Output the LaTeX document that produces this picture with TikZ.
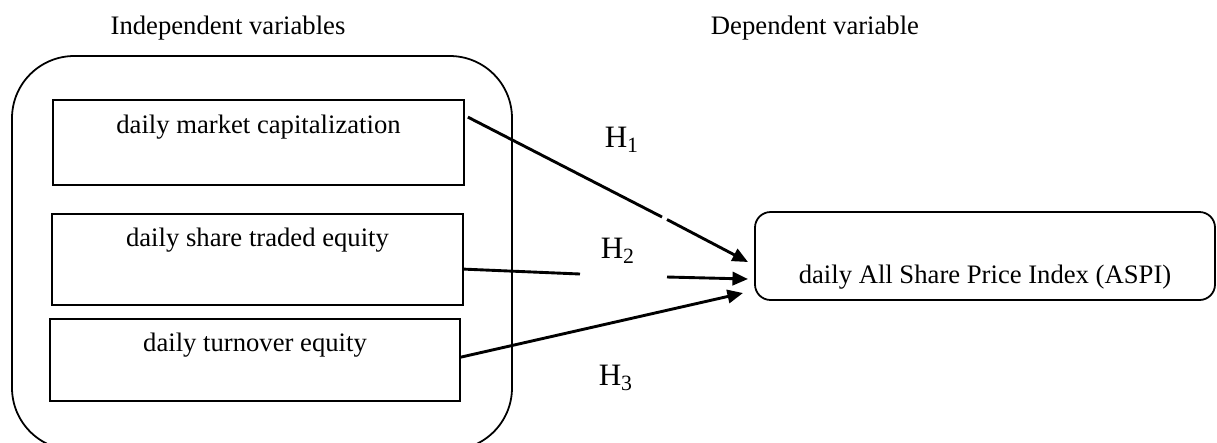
\documentclass[tikz,border=0pt]{standalone}
\usepackage{fontspec}
\setmainfont{Liberation Serif}
\usetikzlibrary{arrows.meta,fit,calc}
\begin{document}
\begin{tikzpicture}[x=0.45pt,y=-0.45pt,
  box/.style={draw,line width=0.8pt,inner sep=0pt},
  txt/.style={font=\fontsize{12pt}{14pt}\selectfont,inner sep=0pt},
  hlab/.style={font=\fontsize{14pt}{16pt}\selectfont,inner sep=0pt},
  conn/.style={line width=1.3pt},
  arr/.style={conn,-{Triangle[length=7pt,width=6pt]}}]
\useasboundingbox (0,0) rectangle (1217,442);
\clip (0,0) rectangle (1217,442);
% headings
\node[txt] (hi) at (228,28) {Independent variables};
\node[txt] (hd) at (815,28) {Dependent variable};
% outer group
\node[box,rounded corners=28pt,fit={(12,56) (512,450)}] (grp) {};
% independent boxes
\node[box,fit={(53,100) (464,185)}] (b1) {};
\node[box,fit={(52,214) (463,305)}] (b2) {};
\node[box,fit={(50,319) (460,401)}] (b3) {};
\node[txt] (t1) at (258.5,127.5) {daily market capitalization};
\node[txt] (t2) at (257.5,240) {daily share traded equity};
\node[txt] (t3) at (255,345) {daily turnover equity};
% dependent box
\node[box,rounded corners=7pt,fit={(755,212) (1215,300)}] (dep) {};
\node[txt] (td) at (985,277) {daily All Share Price Index (ASPI)};
% hypothesis labels
\node[hlab] (h1) at (622,140) {H\textsubscript{1}};
\node[hlab] (h2) at (618,251) {H\textsubscript{2}};
\node[hlab] (h3) at (616,378) {H\textsubscript{3}};
% connectors
\coordinate (s1) at ($(b1.north east)+(3,18)$);
\coordinate (s2) at ($(b2.north east)+(0,56)$);
\coordinate (s3) at ($(b3.north east)+(0,39)$);
\coordinate (e1) at (748,262);
\coordinate (e2) at (748,279);
\coordinate (e3) at (743,293);
\coordinate (g1) at (580,274);
\coordinate (g2) at (667,277);
\coordinate (k1) at (662,217);
\coordinate (k2) at (667,219.5);
\draw[conn] (s1) -- (k1);
\draw[arr] (k2) -- (e1);
\draw[conn] (s2) -- (g1);
\draw[arr] (g2) -- (e2);
\draw[arr] (s3) -- (e3);
\end{tikzpicture}
\end{document}
